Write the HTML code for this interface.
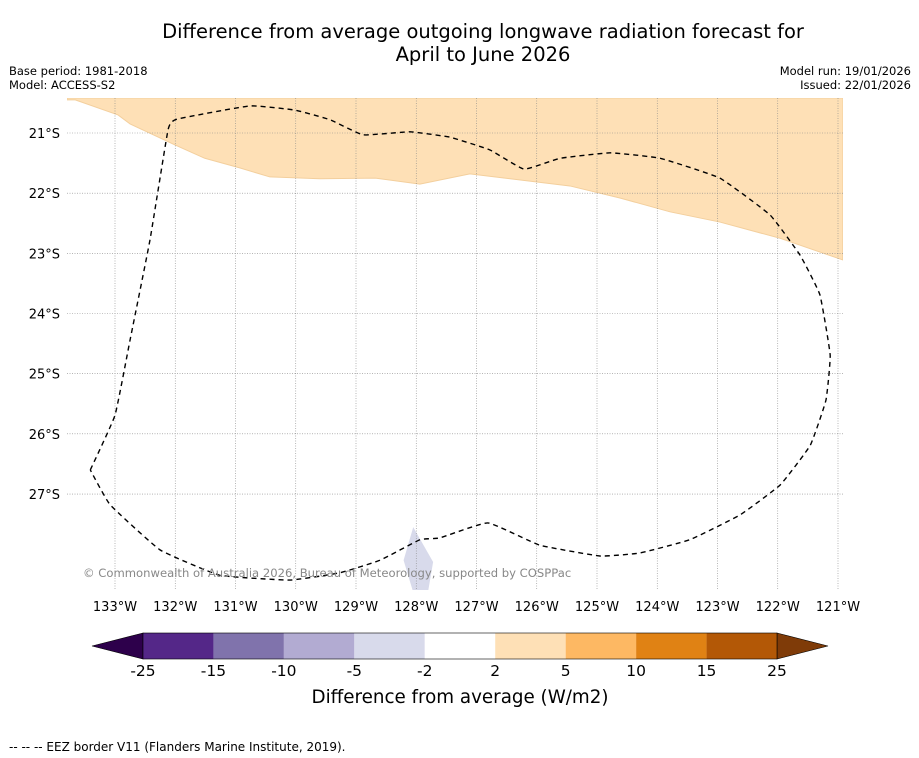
<!DOCTYPE html>
<html><head><meta charset="utf-8"><style>
body{margin:0;background:#fff;font-family:"DejaVu Sans","Liberation Sans",sans-serif;}
svg{display:block}
</style></head><body>
<svg id="c" width="919" height="758" xmlns="http://www.w3.org/2000/svg">
<text x="483" y="38" font-size="19.5" text-anchor="middle">Difference from average outgoing longwave radiation forecast for</text>
<text x="483" y="61" font-size="19.5" text-anchor="middle">April to June 2026</text>
<text x="9" y="75" font-size="11.5">Base period: 1981-2018</text>
<text x="9" y="89" font-size="11.5">Model: ACCESS-S2</text>
<text x="911" y="75" font-size="11.5" text-anchor="end">Model run: 19/01/2026</text>
<text x="911" y="89" font-size="11.5" text-anchor="end">Issued: 22/01/2026</text>
<g id="map"></g>
<g id="cb"></g>
<text x="460" y="703" font-size="18.3" text-anchor="middle">Difference from average (W/m2)</text>
<text x="9" y="751" font-size="12">--  --  -- EEZ border V11 (Flanders Marine Institute, 2019).</text>
</svg>
<script>
const lonTicks=[133,132,131,130,129,128,127,126,125,124,123,122,121];
const latTicks=[21,22,23,24,25,26,27];
const anomLon=[133.80,133.66,132.95,132.75,132.00,131.51,130.93,130.43,129.60,128.68,127.94,127.11,125.45,124.62,123.79,122.96,121.96,120.92];
const anomLat=[20.45,20.45,20.70,20.85,21.20,21.42,21.58,21.73,21.76,21.75,21.85,21.68,21.88,22.08,22.31,22.48,22.75,23.11];
const eezLon=[133.41,133,132.75,132.42,132.12,131.97,130.76,130.01,129.43,128.88,128.10,127.44,126.78,126.21,125.61,124.78,123.95,122.96,122.13,121.63,121.30,121.13,121.20,121.46,121.96,122.63,123.46,124.29,124.95,125.95,126.81,127.61,127.94,128.60,129.27,130.10,131.26,132.25,133.08,133.41];
const eezLat=[26.60,25.69,24.44,22.78,20.95,20.77,20.55,20.62,20.78,21.03,20.98,21.07,21.28,21.60,21.42,21.33,21.42,21.75,22.36,23.03,23.69,24.69,25.44,26.19,26.85,27.35,27.76,27.98,28.03,27.85,27.48,27.73,27.76,28.10,28.31,28.43,28.35,27.93,27.18,26.60];
const negLon=[128.05,127.88,127.72,127.80,128.06,128.21];
const negLat=[27.55,27.85,28.13,28.60,28.60,28.10];
const cbLevels=["-25","-15","-10","-5","-2","2","5","10","15","25"];
const cbColors=["#542788","#8073ac","#b2abd2","#d8daeb","#ffffff","#fee0b6","#fdb863","#e08214","#b35806"];
const NS="http://www.w3.org/2000/svg";
const X0=67,X1=843,Y0=98,Y1=590;
const x=lon=>115+(133-lon)*60.25;
const y=lat=>133+(lat-21)*60.17;
function mk(t,a,p){const e=document.createElementNS(NS,t);for(const k in a)e.setAttribute(k,a[k]);p.appendChild(e);return e;}
function smooth(P){let d=`M${P[0][0]},${P[0][1]}`;for(let i=0;i<P.length-1;i++){const p0=P[Math.max(0,i-1)],p1=P[i],p2=P[i+1],p3=P[Math.min(P.length-1,i+2)];const k=0.35/2*2/3*1.5;d+=` C${p1[0]+(p2[0]-p0[0])*k/1.5*0.5},${p1[1]+(p2[1]-p0[1])*k/1.5*0.5} ${p2[0]-(p3[0]-p1[0])*k/1.5*0.5},${p2[1]-(p3[1]-p1[1])*k/1.5*0.5} ${p2[0]},${p2[1]}`;}return d;}
const map=document.getElementById('map');
const defs=mk('defs',{},map);
const cp=mk('clipPath',{id:'clip'},defs);mk('rect',{x:X0,y:Y0,width:X1-X0,height:Y1-Y0},cp);
const g=mk('g',{'clip-path':'url(#clip)'},map);
let pts=`${X0},${Y0} `+anomLon.map((l,i)=>x(l)+','+y(anomLat[i])).join(' ')+` ${X1},${Y0}`;
let an=mk('polygon',{points:pts,fill:'#fee0b6',stroke:'#f3cf9d','stroke-width':1},g);


let ng=mk('polygon',{points:negLon.map((l,i)=>x(l)+','+y(negLat[i])).join(' '),fill:'#d8daeb'},g);


lonTicks.forEach(l=>{
 let ln=mk('line',{x1:x(l),x2:x(l),y1:Y0,y2:Y1,stroke:'#888','stroke-width':0.6,'stroke-dasharray':'1,1.5'},g);
 
 
 let t=mk('text',{x:x(l),y:611,'font-size':13,'text-anchor':'middle'},map);t.textContent=l+'°W';
 
 
});
latTicks.forEach(l=>{
 let ln=mk('line',{x1:X0,x2:X1,y1:y(l),y2:y(l),stroke:'#888','stroke-width':0.6,'stroke-dasharray':'1,1.5'},g);
 
 
 let t=mk('text',{x:60,y:y(l)+5,'font-size':13,'text-anchor':'end'},map);t.textContent=l+'°S';
 
 
});
let ez=mk('path',{d:smooth(eezLon.map((l,i)=>[x(l),y(eezLat[i])])),fill:'none',stroke:'#000','stroke-width':1.4,'stroke-dasharray':'5,4'},g);


let cr=mk('text',{x:83,y:577,'font-size':11.6,fill:'#888'},map);cr.textContent='© Commonwealth of Australia 2026, Bureau of Meteorology, supported by COSPPac';


const cb=document.getElementById('cb');
const B0=143,B1=777,CY=633,CH=26,bw=(B1-B0)/cbColors.length;
let la=mk('polygon',{points:`${B0},${CY} 92,${CY+CH/2} ${B0},${CY+CH}`,fill:'#2d004b',stroke:'#000','stroke-width':0.6},cb);


let ra=mk('polygon',{points:`${B1},${CY} 828,${CY+CH/2} ${B1},${CY+CH}`,fill:'#7f3b08',stroke:'#000','stroke-width':0.6},cb);


cbColors.forEach((c,i)=>{
 let r=mk('rect',{x:B0+i*bw,y:CY,width:bw,height:CH,fill:c},cb);
 
 
});
mk('rect',{x:B0,y:CY,width:B1-B0,height:CH,fill:'none',stroke:'#000','stroke-width':0.6},cb);
cbLevels.forEach((v,i)=>{
 let t=mk('text',{x:B0+i*bw,y:676,'font-size':15.5,'text-anchor':'middle'},cb);t.textContent=v;
 
 
});
</script>
</body></html>
